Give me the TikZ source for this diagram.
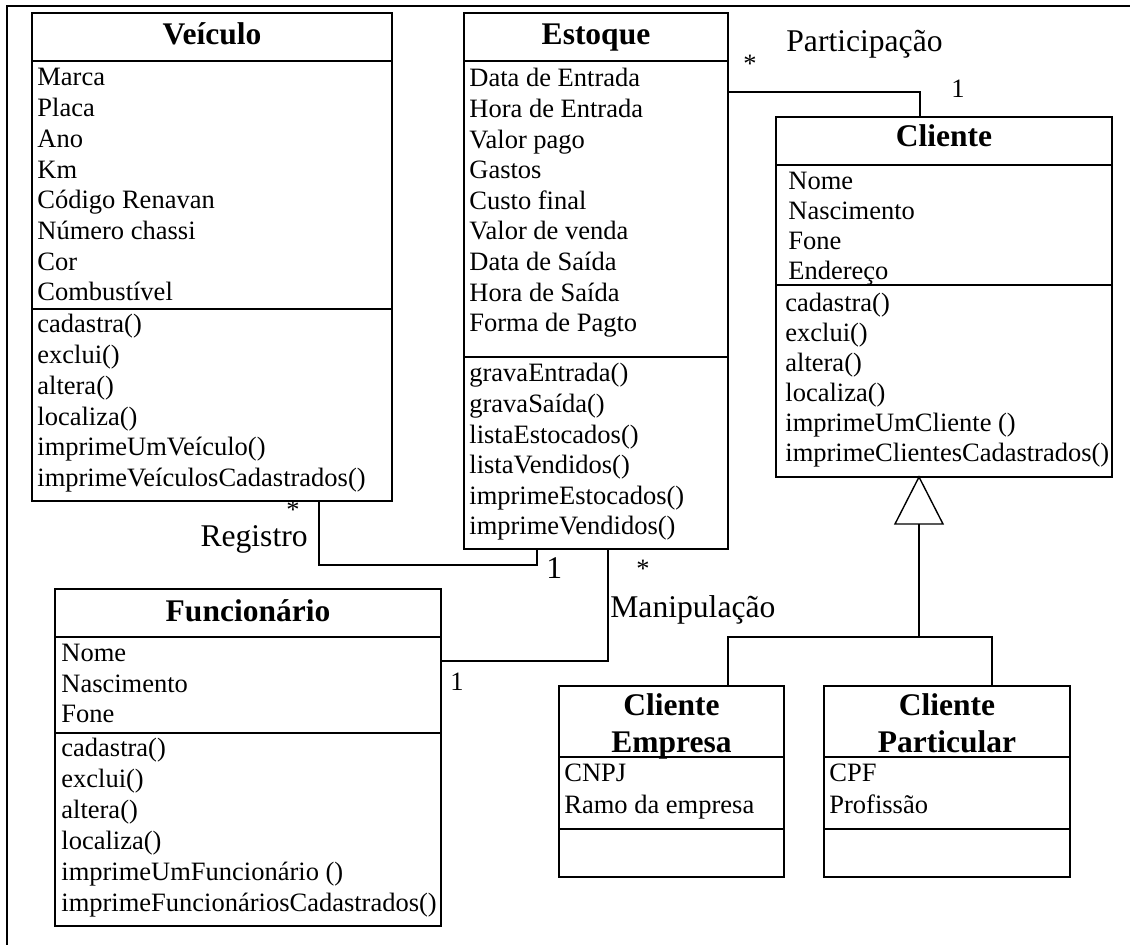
\documentclass[tikz,border=0pt]{standalone}
\usepackage{fontspec}
\setmainfont{Liberation Serif}
\usetikzlibrary{calc}
% one line per member, baselines dy apart
\newcommand\memberlist[5]{%
  \foreach \t [count=\i] in {#5}{%
    \node[member] (#1\i) at (#2,{#3+(\i-1)*#4}) {\t};}}
\begin{document}
\begin{tikzpicture}[x=0.5pt,y=-0.5pt,
  classbox/.style={draw, line width=1pt, inner sep=0pt, outer sep=0pt,
    anchor=north west, fill=white},
  part/.style={line width=1pt},
  conn/.style={line width=0.7pt},
  member/.style={anchor=base west, inner sep=0pt,
    font=\fontsize{13.25}{15}\selectfont},
  classname/.style={anchor=base, inner sep=0pt,
    font=\fontsize{15.75}{18}\selectfont\bfseries},
  rolelabel/.style={anchor=base west, inner sep=0pt,
    font=\fontsize{15.8}{18}\selectfont},
  mult/.style={anchor=base, inner sep=0pt,
    font=\fontsize{13.25}{15}\selectfont},
]
\useasboundingbox (0,0) rectangle (1130,945);

% page frame
\draw[line width=1pt] (7,945) -- (7,6) -- (1130,6);

% ---------- Veículo ----------
\node[classbox, minimum width=180pt, minimum height=244pt] (veiculo) at (32,13) {};
\draw[part] (veiculo.west |- 0,61) -- (veiculo.east |- 0,61);
\draw[part] (veiculo.west |- 0,309) -- (veiculo.east |- 0,309);
\node[classname] (veiculo-h) at (212,45) {Veículo};
\memberlist{veiculo-a}{37}{86}{30.7}{Marca,Placa,Ano,Km,Código Renavan,Número chassi,Cor,Combustível}
\memberlist{veiculo-m}{37}{333}{30.7}{cadastra(),exclui(),altera(),localiza(),imprimeUmVeículo(),imprimeVeículosCadastrados()}

% ---------- Estoque ----------
\node[classbox, minimum width=132pt, minimum height=268pt] (estoque) at (464,13) {};
\draw[part] (estoque.west |- 0,61) -- (estoque.east |- 0,61);
\draw[part] (estoque.west |- 0,357) -- (estoque.east |- 0,357);
\node[classname] (estoque-h) at (596,45) {Estoque};
\memberlist{estoque-a}{469}{87}{30.6}{Data de Entrada,Hora de Entrada,Valor pago,Gastos,Custo final,Valor de venda,Data de Saída,Hora de Saída,Forma de Pagto}
\memberlist{estoque-m}{469}{382}{30.6}{gravaEntrada(),gravaSaída(),listaEstocados(),listaVendidos(),imprimeEstocados(),imprimeVendidos()}

% ---------- Cliente ----------
\node[classbox, minimum width=168pt, minimum height=180pt] (cliente) at (776,117) {};
\draw[part] (cliente.west |- 0,165) -- (cliente.east |- 0,165);
\draw[part] (cliente.west |- 0,285) -- (cliente.east |- 0,285);
\node[classname] (cliente-h) at (944,147) {Cliente};
\memberlist{cliente-a}{788}{190}{30}{Nome,Nascimento,Fone,Endereço}
\memberlist{cliente-m}{785}{312}{30}{cadastra(),exclui(),altera(),localiza(),imprimeUmCliente (),imprimeClientesCadastrados()}

% ---------- Funcionário ----------
\node[classbox, minimum width=193pt, minimum height=168.5pt] (funcionario) at (55,589) {};
\draw[part] (funcionario.west |- 0,637) -- (funcionario.east |- 0,637);
\draw[part] (funcionario.west |- 0,733) -- (funcionario.east |- 0,733);
\node[classname] (funcionario-h) at (248,622) {Funcionário};
\memberlist{funcionario-a}{61}{662}{30.5}{Nome,Nascimento,Fone}
\memberlist{funcionario-m}{61}{757}{30.8}{cadastra(),exclui(),altera(),localiza(),imprimeUmFuncionário (),imprimeFuncionáriosCadastrados()}

% ---------- Cliente Empresa ----------
\node[classbox, minimum width=112.5pt, minimum height=95.5pt] (empresa) at (559,686) {};
\draw[part] (empresa.west |- 0,757) -- (empresa.east |- 0,757);
\draw[part] (empresa.west |- 0,829) -- (empresa.east |- 0,829);
\node[classname] (empresa-h1) at (671.5,716) {Cliente};
\node[classname] (empresa-h2) at (671.5,753) {Empresa};
\memberlist{empresa-a}{564}{782}{31}{CNPJ,Ramo da empresa}

% ---------- Cliente Particular ----------
\node[classbox, minimum width=123pt, minimum height=95.5pt] (particular) at (824,686) {};
\draw[part] (particular.west |- 0,757) -- (particular.east |- 0,757);
\draw[part] (particular.west |- 0,829) -- (particular.east |- 0,829);
\node[classname] (particular-h1) at (947,716) {Cliente};
\node[classname] (particular-h2) at (947,753) {Particular};
\memberlist{particular-a}{829}{782}{31}{CPF,Profissão}

% ---------- Participação (Estoque * -- 1 Cliente) ----------
\coordinate (pbend) at (920,92);
\draw[conn] (estoque.east |- pbend) -| (cliente.north -| pbend);
\node[mult] (part-many) at (750,73) {*};
\node[rolelabel] (part-label) at (786,52) {Participação};
\node[member] (part-one) at (951,98) {1};

% ---------- Registro (Veículo * -- 1 Estoque) ----------
\coordinate (rbend) at (319,565);
\coordinate (rend) at (537,565);
\draw[conn] (veiculo.south -| rbend) -- (rbend) -- (rend) -- (estoque.south -| rend);
\node[mult] (reg-many) at (293,519) {*};
\node[rolelabel, anchor=base east] (reg-label) at (308,547) {Registro};
\node[rolelabel] (reg-one) at (546,579) {1};

% ---------- Manipulação (Estoque * -- 1 Funcionário) ----------
\coordinate (mbend) at (608,661);
\draw[conn] (estoque.south -| mbend) |- (funcionario.east |- mbend);
\node[mult] (man-many) at (643,578) {*};
\node[rolelabel] (man-label) at (610,618) {Manipulação};
\node[member] (man-one) at (450,691) {1};

% ---------- Generalization: Cliente <|-- Empresa, Particular ----------
\coordinate (gapex) at (cliente.south -| 919,0);
\coordinate (gjoin) at (919,637);
\coordinate (gleft) at (728,637);
\coordinate (gright) at (992,637);
\draw[conn, fill=white] (gapex) -- ++(-24,47) -- ++(48,0) -- cycle;
\draw[conn] ($(gapex)+(0,47)$) -- (gjoin);
\draw[conn] (empresa.north -| gleft) -- (gleft) -- (gright) -- (particular.north -| gright);

\end{tikzpicture}
\end{document}
